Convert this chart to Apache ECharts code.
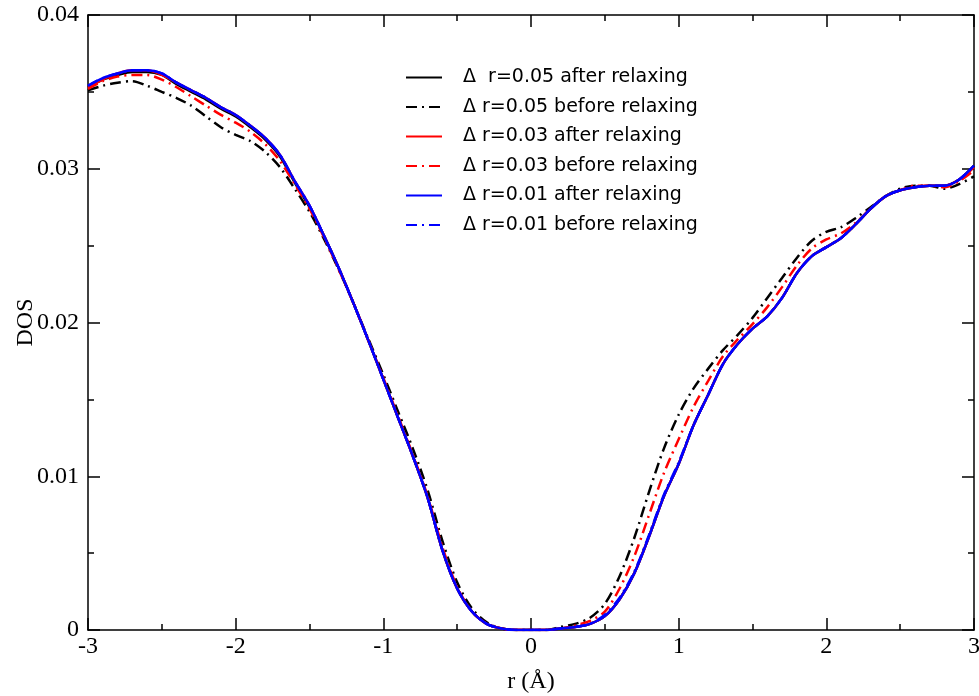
<!DOCTYPE html>
<html>
<head>
<meta charset="utf-8">
<script src="https://cdn.jsdelivr.net/npm/echarts@6/dist/echarts.min.js"></script>
<style>html,body{margin:0;padding:0;background:#fff}#c{width:979px;height:696px}</style>
</head>
<body>
<div id="c"></div>
<script>
// r (Å) sample positions
var rValues = [-3.0,-2.9,-2.8,-2.7,-2.6,-2.5,-2.4,-2.3,-2.2,-2.1,-2.0,-1.9,-1.8,-1.7,-1.6,-1.5,-1.4,-1.3,-1.2,-1.1,-1.0,-0.9,-0.8,-0.7,-0.6,-0.5,-0.4,-0.3,-0.2,-0.1,0.0,0.1,0.2,0.3,0.4,0.5,0.6,0.7,0.8,0.9,1.0,1.1,1.2,1.3,1.4,1.5,1.6,1.7,1.8,1.9,2.0,2.1,2.2,2.3,2.4,2.5,2.6,2.7,2.8,2.9,3.0];

var dr005After = [0.0353,0.0358,0.0361,0.0363,0.0363,0.0361,0.0355,0.0350,0.0345,0.0339,0.0334,0.0327,0.0319,0.0308,0.0291,0.0275,0.0256,0.0235,0.0212,0.0188,0.0163,0.0138,0.0113,0.0086,0.0052,0.0027,0.0012,0.0004,0.0001,0.0000,0.0000,0.0000,0.0001,0.0002,0.0004,0.0009,0.0020,0.0037,0.0061,0.0087,0.0108,0.0133,0.0153,0.0173,0.0186,0.0196,0.0204,0.0216,0.0232,0.0243,0.0249,0.0255,0.0264,0.0274,0.0282,0.0286,0.0288,0.0289,0.0289,0.0293,0.0302];
var dr005Before = [0.0351,0.0354,0.0356,0.0357,0.0354,0.0350,0.0346,0.0341,0.0334,0.0327,0.0322,0.0318,0.0311,0.0301,0.0287,0.0272,0.0254,0.0234,0.0212,0.0189,0.0166,0.0142,0.0118,0.0091,0.0058,0.0031,0.0014,0.0005,0.0001,0.0000,0.0000,0.0000,0.0002,0.0004,0.0008,0.0017,0.0035,0.0060,0.0090,0.0118,0.0140,0.0157,0.0170,0.0182,0.0192,0.0203,0.0216,0.0229,0.0242,0.0253,0.0259,0.0262,0.0268,0.0275,0.0282,0.0287,0.0289,0.0289,0.0287,0.0290,0.0295];
var dr003After = [0.0353,0.0358,0.0362,0.0364,0.0364,0.0361,0.0356,0.0351,0.0346,0.0340,0.0335,0.0328,0.0320,0.0309,0.0292,0.0276,0.0256,0.0235,0.0212,0.0188,0.0163,0.0138,0.0113,0.0086,0.0052,0.0027,0.0012,0.0004,0.0001,0.0000,0.0000,0.0000,0.0001,0.0002,0.0004,0.0009,0.0020,0.0037,0.0061,0.0087,0.0108,0.0133,0.0153,0.0173,0.0186,0.0196,0.0204,0.0216,0.0232,0.0243,0.0249,0.0255,0.0264,0.0274,0.0282,0.0286,0.0288,0.0289,0.0289,0.0293,0.0301];
var dr003Before = [0.0352,0.0357,0.0360,0.0361,0.0361,0.0358,0.0353,0.0347,0.0341,0.0335,0.0330,0.0324,0.0316,0.0305,0.0290,0.0274,0.0255,0.0234,0.0212,0.0188,0.0164,0.0139,0.0114,0.0087,0.0054,0.0028,0.0012,0.0004,0.0001,0.0000,0.0000,0.0000,0.0001,0.0003,0.0006,0.0012,0.0027,0.0048,0.0075,0.0102,0.0124,0.0145,0.0162,0.0178,0.0189,0.0199,0.0210,0.0223,0.0237,0.0248,0.0254,0.0258,0.0265,0.0274,0.0282,0.0286,0.0289,0.0289,0.0288,0.0292,0.0299];
var dr001After = [0.0354,0.0359,0.0362,0.0364,0.0364,0.0362,0.0356,0.0351,0.0346,0.0340,0.0335,0.0328,0.0320,0.0309,0.0292,0.0276,0.0256,0.0235,0.0212,0.0188,0.0163,0.0138,0.0113,0.0086,0.0052,0.0027,0.0012,0.0004,0.0001,0.0000,0.0000,0.0000,0.0001,0.0002,0.0004,0.0009,0.0020,0.0037,0.0061,0.0087,0.0108,0.0133,0.0153,0.0173,0.0186,0.0196,0.0204,0.0216,0.0232,0.0243,0.0249,0.0255,0.0264,0.0274,0.0282,0.0286,0.0288,0.0289,0.0289,0.0293,0.0302];
var dr001Before = [0.0354,0.0359,0.0362,0.0364,0.0364,0.0362,0.0356,0.0351,0.0346,0.0340,0.0335,0.0328,0.0320,0.0309,0.0292,0.0276,0.0256,0.0235,0.0212,0.0188,0.0163,0.0138,0.0113,0.0086,0.0052,0.0027,0.0012,0.0004,0.0001,0.0000,0.0000,0.0000,0.0001,0.0002,0.0004,0.0010,0.0021,0.0038,0.0062,0.0088,0.0109,0.0133,0.0153,0.0173,0.0186,0.0196,0.0204,0.0216,0.0232,0.0243,0.0249,0.0255,0.0264,0.0274,0.0282,0.0286,0.0288,0.0289,0.0289,0.0293,0.0302];

var seriesNames = [
  'Δ  r=0.05 after relaxing',
  'Δ r=0.05 before relaxing',
  'Δ r=0.03 after relaxing',
  'Δ r=0.03 before relaxing',
  'Δ r=0.01 after relaxing',
  'Δ r=0.01 before relaxing'
];
var seriesData = [dr005After, dr005Before, dr003After, dr003Before, dr001After, dr001Before];
var seriesColors = ['#000000','#000000','#ff0000','#ff0000','#0000ff','#0000ff'];
var seriesDashed = [false, true, false, true, false, true];

function pairs(vals){ return rValues.map(function(r,i){ return [r, vals[i]]; }); }

var serifFont = 'Liberation Serif';
var series = seriesNames.map(function(n, k){
  return {
    name: n, type: 'line', xAxisIndex: 0, yAxisIndex: 0,
    data: pairs(seriesData[k]), smooth: 0.3, symbol: 'none', showSymbol: false,
    lineStyle: { color: seriesColors[k], width: 2.5, type: seriesDashed[k] ? [11, 5, 2, 5] : 'solid', cap: 'butt' },
    itemStyle: { color: seriesColors[k] },
    emphasis: { disabled: true }, animation: false
  };
});

var tickCommon = { show: true, inside: true, length: 12, lineStyle: { color: '#000', width: 1.5 } };
var minorCommon = { show: true, splitNumber: 2, length: 6, lineStyle: { color: '#000', width: 1.5 } };
var lineCommon = { show: true, onZero: false, lineStyle: { color: '#000', width: 1.5 } };

var chart = echarts.init(document.getElementById('c'), null, { renderer: 'canvas' });
chart.setOption({
  backgroundColor: '#ffffff',
  animation: false,
  grid: { left: 88, right: 5, top: 15, bottom: 66, containLabel: false, outerBoundsMode: 'none' },
  legend: {
    left: 400, top: 63, orient: 'vertical', itemWidth: 36, itemHeight: 14, itemGap: 10.5,
    itemStyle: { opacity: 0 },
    textStyle: { fontFamily: 'DejaVu Sans', fontSize: 19, color: '#000', padding: [0, 0, 0, 16] },
    data: seriesNames
  },
  xAxis: [
    { type: 'value', position: 'bottom', min: -3, max: 3, interval: 1,
      axisLine: lineCommon, axisTick: tickCommon, minorTick: minorCommon, splitLine: { show: false },
      axisLabel: { color: '#000', fontFamily: serifFont, fontSize: 24, margin: 5 },
      name: 'r (Å)', nameLocation: 'middle', nameGap: 40, nameMoveOverlap: false,
      nameTextStyle: { color: '#000', fontFamily: serifFont, fontSize: 24 } },
    { type: 'value', position: 'top', min: -3, max: 3, interval: 1,
      axisLine: lineCommon, axisTick: tickCommon, minorTick: minorCommon, splitLine: { show: false },
      axisLabel: { show: false } }
  ],
  yAxis: [
    { type: 'value', position: 'left', min: 0, max: 0.04, interval: 0.01,
      axisLine: lineCommon, axisTick: tickCommon, minorTick: minorCommon, splitLine: { show: false },
      axisLabel: { color: '#000', fontFamily: serifFont, fontSize: 24, margin: 9 },
      name: 'DOS', nameLocation: 'middle', nameGap: 50, nameRotate: 90, nameMoveOverlap: false,
      nameTextStyle: { color: '#000', fontFamily: serifFont, fontSize: 24 } },
    { type: 'value', position: 'right', min: 0, max: 0.04, interval: 0.01,
      axisLine: lineCommon, axisTick: tickCommon, minorTick: minorCommon, splitLine: { show: false },
      axisLabel: { show: false } }
  ],
  series: series
});
</script>
</body>
</html>
